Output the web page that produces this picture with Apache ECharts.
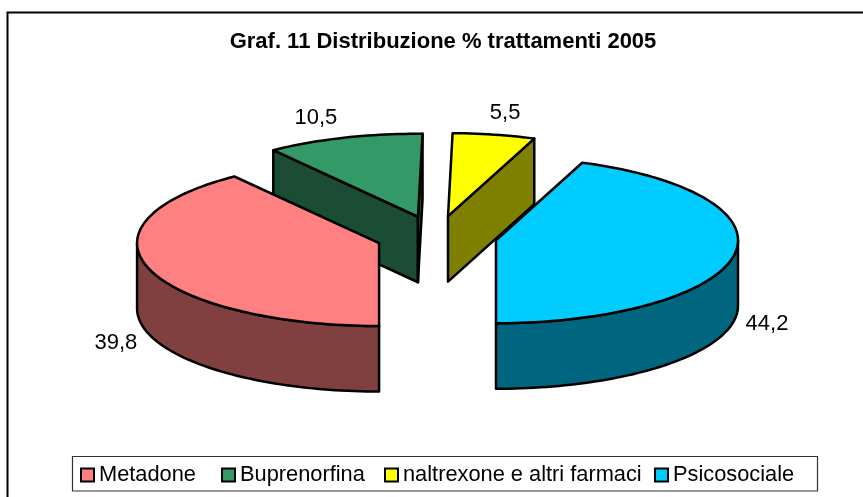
<!DOCTYPE html>
<html><head><meta charset="utf-8">
<style>html,body{margin:0;padding:0;background:#fff;overflow:hidden}#c{width:863px;height:497px}</style>
<script src="https://cdn.jsdelivr.net/npm/echarts@6/dist/echarts.min.js"></script>
</head><body><div id="c"></div>
<script>
const categories = ['Metadone','Buprenorfina','naltrexone e altri farmaci','Psicosociale'];
const values = [39.8,10.5,5.5,44.2];
const valueLabels = ['39,8','10,5','5,5','44,2'];
const colors = ['#FF8080','#339966','#FFFF00','#00CCFF'];
const titleText = 'Graf. 11 Distribuzione % trattamenti 2005';

const FONT = '"Liberation Sans", Arial, sans-serif';
const CX = 436.5, CY = 236.5, RX = 242, RY = 83, DEPTH = 65.5, EXPLODE = 60.5;
const START = 180;
const LABEL_SHIFT = [[-33.5,8],[-28,-20],[11,-22],[33,3]];
const LEGEND_LEFT = [80,221,384,654];
const DRAW_ORDER = [1,2,0,3];

const total = values.reduce((a,b)=>a+b,0);
function half(hex){
  const n=parseInt(hex.slice(1),16);
  const f=c=>Math.round(c/2);
  return `rgb(${f(n>>16&255)},${f(n>>8&255)},${f(n&255)})`;
}
function rim(c,deg,dy){
  const t=deg*Math.PI/180;
  return [c[0]+RX*Math.sin(t), c[1]-RY*Math.cos(t)+(dy||0)];
}
function slice(i){
  let cum=0; for(let k=0;k<i;k++) cum+=values[k];
  const a0=START+cum/total*360, a1=a0+values[i]/total*360, m=(a0+a1)/2;
  const mr=m*Math.PI/180;
  const c=[CX+EXPLODE*Math.sin(mr), CY-EXPLODE*RY/RX*Math.cos(mr)];
  return {a0,a1,m,c};
}
function arc(c,a,b,dy){
  const n=Math.max(2,Math.ceil(Math.abs(b-a)/1.5)), p=[];
  for(let k=0;k<=n;k++) p.push(rim(c,a+(b-a)*k/n,dy));
  return p;
}
const edge={stroke:'#000',lineWidth:2.5,lineJoin:'round'};
function poly(points,fill){
  return {type:'polygon',shape:{points},style:Object.assign({fill},edge)};
}
function buildSeries(i){
  const s=slice(i), top=colors[i], side=half(top);
  return {
    type:'custom', name:categories[i], coordinateSystem:'none',
    itemStyle:{color:top},
    data:[values[i]], silent:true, animation:false,
    renderItem(){
      const ch=[], {a0,a1,m,c}=s, bot=[c[0],c[1]+DEPTH];
      // cut faces seen from the viewer
      for(const a of [a0,a1]){
        const p=rim(c,a), sn=Math.sin(a*Math.PI/180);
        const facing = a===a0 ? sn<-0.001 : sn>0.001;
        if(facing) ch.push(poly([c,p,[p[0],p[1]+DEPTH],bot],side));
      }
      // outer wall: front half of the rim
      for(const [l,h] of [[Math.max(a0,90),Math.min(a1,270)],[Math.max(a0,450),Math.min(a1,630)]]){
        if(h>l) ch.push(poly(arc(c,l,h,0).concat(arc(c,h,l,DEPTH)),side));
      }
      // top face
      ch.push(poly([c].concat(arc(c,a0,a1,0)),top));
      // value label
      const r=rim(c,m,(Math.cos(m*Math.PI/180)<0)?DEPTH:0);
      ch.push({type:'text',z2:10,style:{text:valueLabels[i],x:r[0]+LABEL_SHIFT[i][0],y:r[1]+LABEL_SHIFT[i][1],
        fill:'#000',font:'22px '+FONT,textAlign:'center',textVerticalAlign:'middle'}});
      return {type:'group',children:ch};
    }
  };
}
const chart=echarts.init(document.getElementById('c'),null,{renderer:'canvas'});
chart.setOption({
  backgroundColor:'#fff', animation:false,
  title:{text:titleText,left:443,top:31,textAlign:'center',padding:0,
    textStyle:{fontFamily:FONT,fontWeight:'bold',fontSize:22,color:'#000'}},
  graphic:[
    {type:'rect',z:-1,shape:{x:7.5,y:12.5,width:900,height:520},style:{fill:'#fff',stroke:'#000',lineWidth:2}},
    {type:'rect',z:-1,shape:{x:72.5,y:456.5,width:745,height:34.5},style:{fill:'#fff',stroke:'#333',lineWidth:1.2}}
  ],
  legend:categories.map((name,i)=>({
    data:[name],left:LEGEND_LEFT[i],top:464,itemWidth:13,itemHeight:13,icon:'rect',
    itemGap:0,padding:0,selectedMode:false,
    itemStyle:{borderColor:'#000',borderWidth:2},
    textStyle:{fontFamily:FONT,fontSize:21.8,color:'#000',padding:[0,0,0,0]}
  })),
  series:DRAW_ORDER.map(buildSeries)
});
</script></body></html>
